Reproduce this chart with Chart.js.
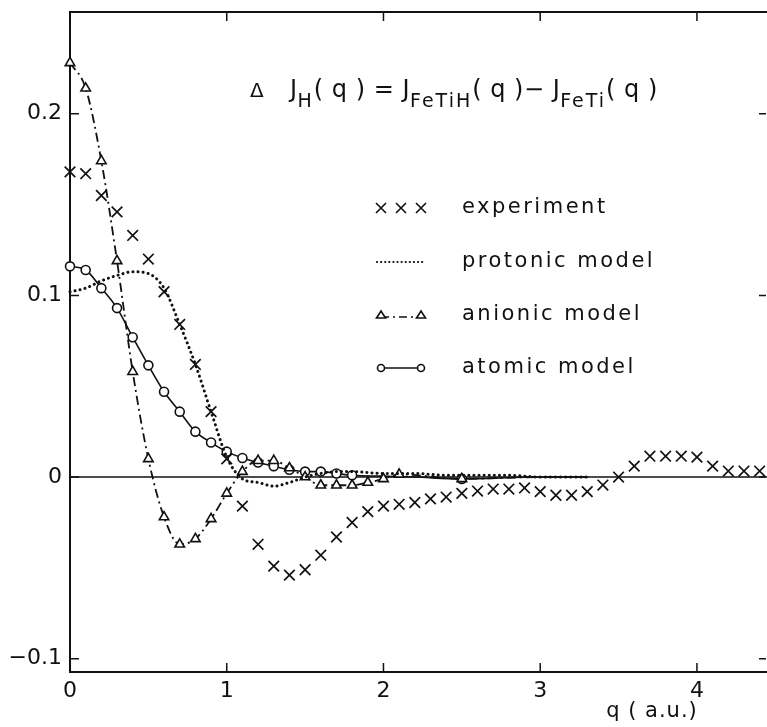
<!DOCTYPE html>
<html>
<head>
<meta charset="utf-8">
<script src="https://cdn.jsdelivr.net/npm/chart.js@4.4.1/dist/chart.umd.min.js"></script>
<style>
  html, body { margin: 0; padding: 0; background: #fff; }
</style>
</head>
<body>
<canvas id="chart" width="767" height="727"></canvas>
<script>
// experiment, every 0.1 a.u.
const qExp = [0, 0.1, 0.2, 0.3, 0.4, 0.5, 0.6, 0.7, 0.8, 0.9,
  1.0, 1.1, 1.2, 1.3, 1.4, 1.5, 1.6, 1.7, 1.8, 1.9,
  2.0, 2.1, 2.2, 2.3, 2.4, 2.5, 2.6, 2.7, 2.8, 2.9,
  3.0, 3.1, 3.2, 3.3, 3.4, 3.5, 3.6, 3.7, 3.8, 3.9,
  4.0, 4.1, 4.2, 4.3, 4.4];
const jExp = [0.168, 0.167, 0.155, 0.146, 0.133, 0.120, 0.102, 0.084, 0.062, 0.036,
  0.010, -0.016, -0.037, -0.049, -0.054, -0.051, -0.043, -0.033, -0.025, -0.019,
  -0.016, -0.015, -0.014, -0.012, -0.011, -0.009, -0.0077, -0.0066, -0.0066, -0.006,
  -0.008, -0.010, -0.010, -0.008, -0.0044, 0.0, 0.006, 0.0115, 0.0115, 0.0115,
  0.011, 0.006, 0.0033, 0.0033, 0.0033];

// protonic model (dotted)
const qProtonic = [0, 0.1, 0.2, 0.3, 0.4, 0.5, 0.6, 0.7, 0.8, 0.9, 1.0, 1.1, 1.2, 1.3,
  1.4, 1.5, 1.6, 1.7, 1.8, 2.0, 2.2, 2.4, 2.6, 2.8, 3.0, 3.3];
const jProtonic = [0.102, 0.104, 0.108, 0.111, 0.113, 0.112, 0.104, 0.084, 0.062, 0.036, 0.011, -0.001, -0.003, -0.005,
  -0.003, 0.0, 0.002, 0.003, 0.003, 0.002, 0.002, 0.001, 0.001, 0.001, 0.0, 0.0];

// anionic model (dash-dot + triangles)
const qAnionic = [0, 0.1, 0.2, 0.3, 0.4, 0.5, 0.6, 0.7, 0.8, 0.9, 1.0, 1.1, 1.2, 1.3,
  1.4, 1.5, 1.6, 1.7, 1.8, 1.9, 2.0, 2.1, 2.5, 3.0, 3.3];
const jAnionic = [0.228, 0.214, 0.174, 0.119, 0.058, 0.010, -0.022, -0.037, -0.034, -0.023, -0.009, 0.003, 0.009, 0.009,
  0.005, 0.0, -0.0045, -0.0045, -0.0045, -0.003, -0.001, 0.0015, -0.001, 0.0, 0.0];

// atomic model (solid + circles)
const qAtomic = [0, 0.1, 0.2, 0.3, 0.4, 0.5, 0.6, 0.7, 0.8, 0.9, 1.0, 1.1, 1.2, 1.3,
  1.4, 1.5, 1.6, 1.7, 1.8, 2.0, 2.2, 2.5, 3.0, 3.3];
const jAtomic = [0.116, 0.114, 0.104, 0.093, 0.077, 0.0615, 0.047, 0.036, 0.025, 0.019, 0.014, 0.0105, 0.008, 0.006,
  0.004, 0.003, 0.003, 0.002, 0.001, 0.0005, 0.0, -0.001, 0.0, 0.0];

const xTicks = [0, 1, 2, 3, 4];
const yTicks = [-0.1, 0, 0.1, 0.2];
const yTickLabels = ['\u22120.1', '0', '0.1', '0.2'];

const legendNames = ['experiment', 'protonic model', 'anionic model', 'atomic model'];

const FONT = '"DejaVu Sans", sans-serif';

function pts(qs, js) {
  return qs.map((q, i) => ({ x: q, y: js[i] }));
}

// markers only where the original shows them
function markerRadii(qs, r, qMax, extra) {
  return qs.map(q => (q <= qMax + 1e-9 || (extra || []).includes(q)) ? r : 0);
}

function noPadding(s) {
  s.paddingTop = 0; s.paddingBottom = 0; s.paddingLeft = 0; s.paddingRight = 0;
}

const frame = {
  id: 'frame',
  beforeDatasetsDraw(chart) {
    const { ctx, chartArea: a, scales } = chart;
    const x = scales.x, y = scales.y;
    ctx.save();
    ctx.strokeStyle = '#111';
    // zero line
    ctx.lineWidth = 1.6;
    const y0 = y.getPixelForValue(0);
    ctx.beginPath();
    ctx.moveTo(a.left, y0);
    ctx.lineTo(a.right, y0);
    ctx.stroke();
    // box (right edge is cropped in the original)
    ctx.lineWidth = 2;
    ctx.beginPath();
    ctx.moveTo(a.right, a.top);
    ctx.lineTo(a.left, a.top);
    ctx.lineTo(a.left, a.bottom);
    ctx.lineTo(a.right, a.bottom);
    ctx.stroke();
    // inward ticks
    ctx.lineWidth = 1.5;
    ctx.beginPath();
    xTicks.forEach(v => {
      const px = x.getPixelForValue(v);
      ctx.moveTo(px, a.bottom); ctx.lineTo(px, a.bottom - 9);
      ctx.moveTo(px, a.top); ctx.lineTo(px, a.top + 9);
    });
    yTicks.forEach(v => {
      const py = y.getPixelForValue(v);
      ctx.moveTo(a.left, py); ctx.lineTo(a.left + 9, py);
      ctx.moveTo(a.right - 1, py); ctx.lineTo(a.right - 8, py);
    });
    ctx.stroke();
    ctx.restore();
  },
  afterDraw(chart) {
    const { ctx } = chart;
    ctx.save();
    ctx.fillStyle = '#111';
    ctx.strokeStyle = '#111';
    ctx.textBaseline = 'alphabetic';
    ctx.textAlign = 'left';

    // formula
    ctx.font = '20px ' + FONT;
    ctx.fillText('\u0394', 250, 97);
    const parts = [['J', 0], ['H', 1], ['( q ) = J', 0], ['FeTiH', 1], ['( q )\u2212 J', 0], ['FeTi', 1], ['( q )', 0]];
    let tx = 290;
    parts.forEach(([t, sub]) => {
      ctx.font = (sub ? '19px ' : '24px ') + FONT;
      ctx.letterSpacing = sub ? '2px' : '0.5px';
      ctx.fillText(t, tx, sub ? 107 : 97);
      tx += ctx.measureText(t).width;
    });

    // legend
    const rows = [208, 262, 315, 368];
    ctx.font = '21px ' + FONT;
    ctx.letterSpacing = '2.5px';
    ctx.textBaseline = 'middle';
    legendNames.forEach((name, i) => ctx.fillText(name, 462, rows[i]));

    ctx.letterSpacing = '0px';
    // experiment: x x x
    ctx.lineWidth = 1.6;
    [381, 401, 421].forEach(cx => {
      ctx.beginPath();
      ctx.moveTo(cx - 5, rows[0] - 5); ctx.lineTo(cx + 5, rows[0] + 5);
      ctx.moveTo(cx + 5, rows[0] - 5); ctx.lineTo(cx - 5, rows[0] + 5);
      ctx.stroke();
    });
    // protonic: dotted
    ctx.lineWidth = 2.2;
    ctx.lineCap = 'round';
    ctx.setLineDash([0.1, 4]);
    ctx.beginPath(); ctx.moveTo(377, rows[1]); ctx.lineTo(426, rows[1]); ctx.stroke();
    ctx.setLineDash([]);
    // anionic: triangle - dash dot - triangle
    ctx.lineCap = 'butt';
    ctx.lineWidth = 1.6;
    ctx.setLineDash([8, 4, 2, 4]);
    ctx.beginPath(); ctx.moveTo(381, rows[2] + 2); ctx.lineTo(421, rows[2] + 2); ctx.stroke();
    ctx.setLineDash([]);
    [381, 421].forEach(cx => {
      ctx.beginPath();
      ctx.moveTo(cx, rows[2] - 4); ctx.lineTo(cx + 4.5, rows[2] + 3); ctx.lineTo(cx - 4.5, rows[2] + 3); ctx.closePath();
      ctx.fillStyle = '#fff'; ctx.fill(); ctx.stroke();
    });
    // atomic: circle - line - circle
    ctx.beginPath(); ctx.moveTo(381, rows[3]); ctx.lineTo(421, rows[3]); ctx.stroke();
    [381, 421].forEach(cx => {
      ctx.beginPath(); ctx.arc(cx, rows[3], 3.5, 0, Math.PI * 2);
      ctx.fillStyle = '#fff'; ctx.fill(); ctx.stroke();
    });

    // axis title
    ctx.fillStyle = '#111';
    ctx.font = '21px ' + FONT;
    ctx.letterSpacing = '1px';
    ctx.textAlign = 'center';
    ctx.fillText('q ( a.u.)', 652, 712);
    ctx.restore();
  }
};

const tickFont = { family: FONT, size: 22 };

new Chart(document.getElementById('chart'), {
  type: 'line',
  data: {
    datasets: [
      {
        label: legendNames[0],
        data: pts(qExp, jExp),
        showLine: false,
        pointStyle: 'crossRot',
        pointRadius: 7.5,
        pointBorderWidth: 1.7,
        borderColor: '#111',
        clip: false
      },
      {
        label: legendNames[1],
        data: pts(qProtonic, jProtonic),
        borderColor: '#111',
        borderWidth: 3,
        borderDash: [0.1, 5],
        borderCapStyle: 'round',
        cubicInterpolationMode: 'monotone',
        pointRadius: 0,
        clip: false
      },
      {
        label: legendNames[2],
        data: pts(qAnionic, jAnionic),
        borderColor: '#111',
        borderWidth: 1.8,
        borderDash: [9, 4, 2, 4],
        cubicInterpolationMode: 'monotone',
        pointStyle: 'triangle',
        pointRadius: markerRadii(qAnionic, 5.5, 2.1, [2.5]),
        pointBackgroundColor: '#fff',
        pointBorderColor: '#111',
        pointBorderWidth: 1.6,
        clip: false
      },
      {
        label: legendNames[3],
        data: pts(qAtomic, jAtomic),
        borderColor: '#111',
        borderWidth: 1.6,
        cubicInterpolationMode: 'monotone',
        pointStyle: 'circle',
        pointRadius: markerRadii(qAtomic, 4.5, 1.8, [2.5]),
        pointBackgroundColor: '#fff',
        pointBorderColor: '#111',
        pointBorderWidth: 1.6,
        clip: false
      }
    ]
  },
  options: {
    responsive: false,
    animation: false,
    layout: { autoPadding: false, padding: { top: 12, right: 0, left: 0, bottom: 0 } },
    plugins: { legend: { display: false }, tooltip: { enabled: false } },
    scales: {
      x: {
        type: 'linear',
        min: 0,
        max: 4.447,
        grid: { display: false, drawTicks: false },
        border: { display: false },
        ticks: { color: '#111', font: tickFont, padding: 6, autoSkip: false, maxRotation: 0 },
        afterBuildTicks: s => { s.ticks = xTicks.map(v => ({ value: v })); },
        afterFit: s => { s.height = 55; noPadding(s); }
      },
      y: {
        type: 'linear',
        min: -0.1073,
        max: 0.256,
        grid: { display: false, drawTicks: false },
        border: { display: false },
        ticks: {
          color: '#111', font: tickFont, padding: 8,
          callback: v => yTickLabels[yTicks.findIndex(t => Math.abs(t - v) < 1e-9)]
        },
        afterBuildTicks: s => { s.ticks = yTicks.map(v => ({ value: v })); },
        afterFit: s => { s.width = 70; noPadding(s); }
      }
    }
  },
  plugins: [frame]
});
</script>
</body>
</html>
